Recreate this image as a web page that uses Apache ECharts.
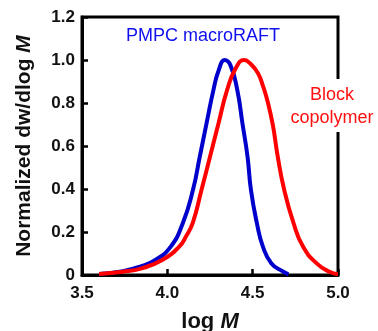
<!DOCTYPE html>
<html>
<head>
<meta charset="utf-8">
<script src="https://cdn.jsdelivr.net/npm/echarts@6/dist/echarts.min.js"></script>
<style>
  html, body { margin: 0; padding: 0; background: #fff; }
  #main { width: 378px; height: 331px; }
</style>
</head>
<body>
<div id="main"></div>
<script>
// values: log M vs normalized dw/dlog M
var macroX = [3.60, 3.74, 3.84, 3.93, 4.02, 4.09, 4.15, 4.19, 4.23, 4.27, 4.30, 4.336, 4.37, 4.41, 4.44, 4.47, 4.49, 4.525, 4.56, 4.61, 4.68, 4.71];
var macroY = [0.005, 0.018, 0.039, 0.07, 0.132, 0.24, 0.395, 0.55, 0.706, 0.86, 0.95, 1.0, 0.975, 0.86, 0.706, 0.55, 0.395, 0.24, 0.132, 0.054, 0.015, 0.003];

var blockX = [3.60, 3.74, 3.85, 3.97, 4.07, 4.11, 4.15, 4.20, 4.25, 4.30, 4.35, 4.40, 4.45, 4.49, 4.53, 4.56, 4.59, 4.62, 4.645, 4.685, 4.74, 4.795, 4.875, 4.95, 5.00];
var blockY = [0.005, 0.015, 0.031, 0.07, 0.132, 0.18, 0.245, 0.395, 0.55, 0.706, 0.86, 0.96, 1.0, 0.98, 0.94, 0.88, 0.80, 0.69, 0.56, 0.395, 0.24, 0.132, 0.054, 0.015, 0.003];

var xTicks = [3.5, 4.0, 4.5, 5.0];
var yTicks = [0, 0.2, 0.4, 0.6, 0.8, 1.0, 1.2];

function pairs(xs, ys) {
  var out = [];
  for (var i = 0; i < xs.length; i++) out.push([xs[i], ys[i]]);
  return out;
}

var font = '"Liberation Sans", Arial, sans-serif';

var chart = echarts.init(document.getElementById('main'));

var option = {
  animation: false,
  grid: {
    left: 82, right: 40, top: 17, bottom: 56,
    outerBoundsMode: 'none',
    containLabel: false,
    show: true,
    borderColor: '#000',
    borderWidth: 3
  },
  xAxis: {
    type: 'value',
    min: xTicks[0], max: xTicks[xTicks.length - 1], interval: 0.5,
    axisLine: { lineStyle: { color: '#000', width: 3 } },
    axisTick: { inside: true, length: 6, lineStyle: { color: '#000', width: 2.5 } },
    splitLine: { show: false },
    axisLabel: {
      color: '#111', fontFamily: font, fontWeight: 'bold', fontSize: 17, margin: 10,
      formatter: function (v) { return v.toFixed(1); }
    },
    name: '{a|log }{b|M}',
    nameLocation: 'middle',
    nameGap: 36,
    nameTextStyle: {
      rich: {
        a: { fontFamily: font, fontWeight: 'bold', fontSize: 22, color: '#111' },
        b: { fontFamily: font, fontWeight: 'bold', fontStyle: 'italic', fontSize: 22, color: '#111' }
      }
    }
  },
  yAxis: {
    type: 'value',
    min: yTicks[0], max: yTicks[yTicks.length - 1], interval: 0.2,
    axisLine: { show: true, lineStyle: { color: '#000', width: 3 } },
    axisTick: { show: true, inside: true, length: 6, lineStyle: { color: '#000', width: 2.5 } },
    splitLine: { show: false },
    axisLabel: {
      color: '#111', fontFamily: font, fontWeight: 'bold', fontSize: 17, margin: 7,
      formatter: function (v) { return v === 0 ? '0' : v.toFixed(1); }
    },
    name: '{a|Normalized dw/dlog }{b|M}',
    nameLocation: 'middle',
    nameGap: 47,
    nameTextStyle: {
      rich: {
        a: { fontFamily: font, fontWeight: 'bold', fontSize: 21, color: '#111' },
        b: { fontFamily: font, fontWeight: 'bold', fontStyle: 'italic', fontSize: 21, color: '#111' }
      }
    }
  },
  series: [{
    name: 'PMPC macroRAFT',
    type: 'line',
    smooth: 0.5,
    showSymbol: false,
    lineStyle: { color: '#0000cc', width: 4 },
    data: pairs(macroX, macroY),
    z: 2
  }, {
    name: 'Block copolymer',
    type: 'line',
    smooth: 0.5,
    showSymbol: false,
    lineStyle: { color: '#ff0000', width: 4 },
    data: pairs(blockX, blockY),
    z: 3
  }],
  graphic: [{
    type: 'text',
    left: 126, top: 27,
    z: 100,
    style: { text: 'PMPC macroRAFT', fill: '#1010ee', font: '18px ' + font }
  }, {
    type: 'rect',
    left: 290, top: 79,
    z: 99,
    shape: { width: 88, height: 53 },
    style: { fill: '#fff' }
  }, {
    type: 'text',
    x: 332, y: 84,
    z: 100,
    style: {
      text: 'Block\ncopolymer', fill: '#ff1010', font: '18px ' + font,
      align: 'center', verticalAlign: 'top', lineHeight: 23
    }
  }]
};

chart.setOption(option);
</script>
</body>
</html>
